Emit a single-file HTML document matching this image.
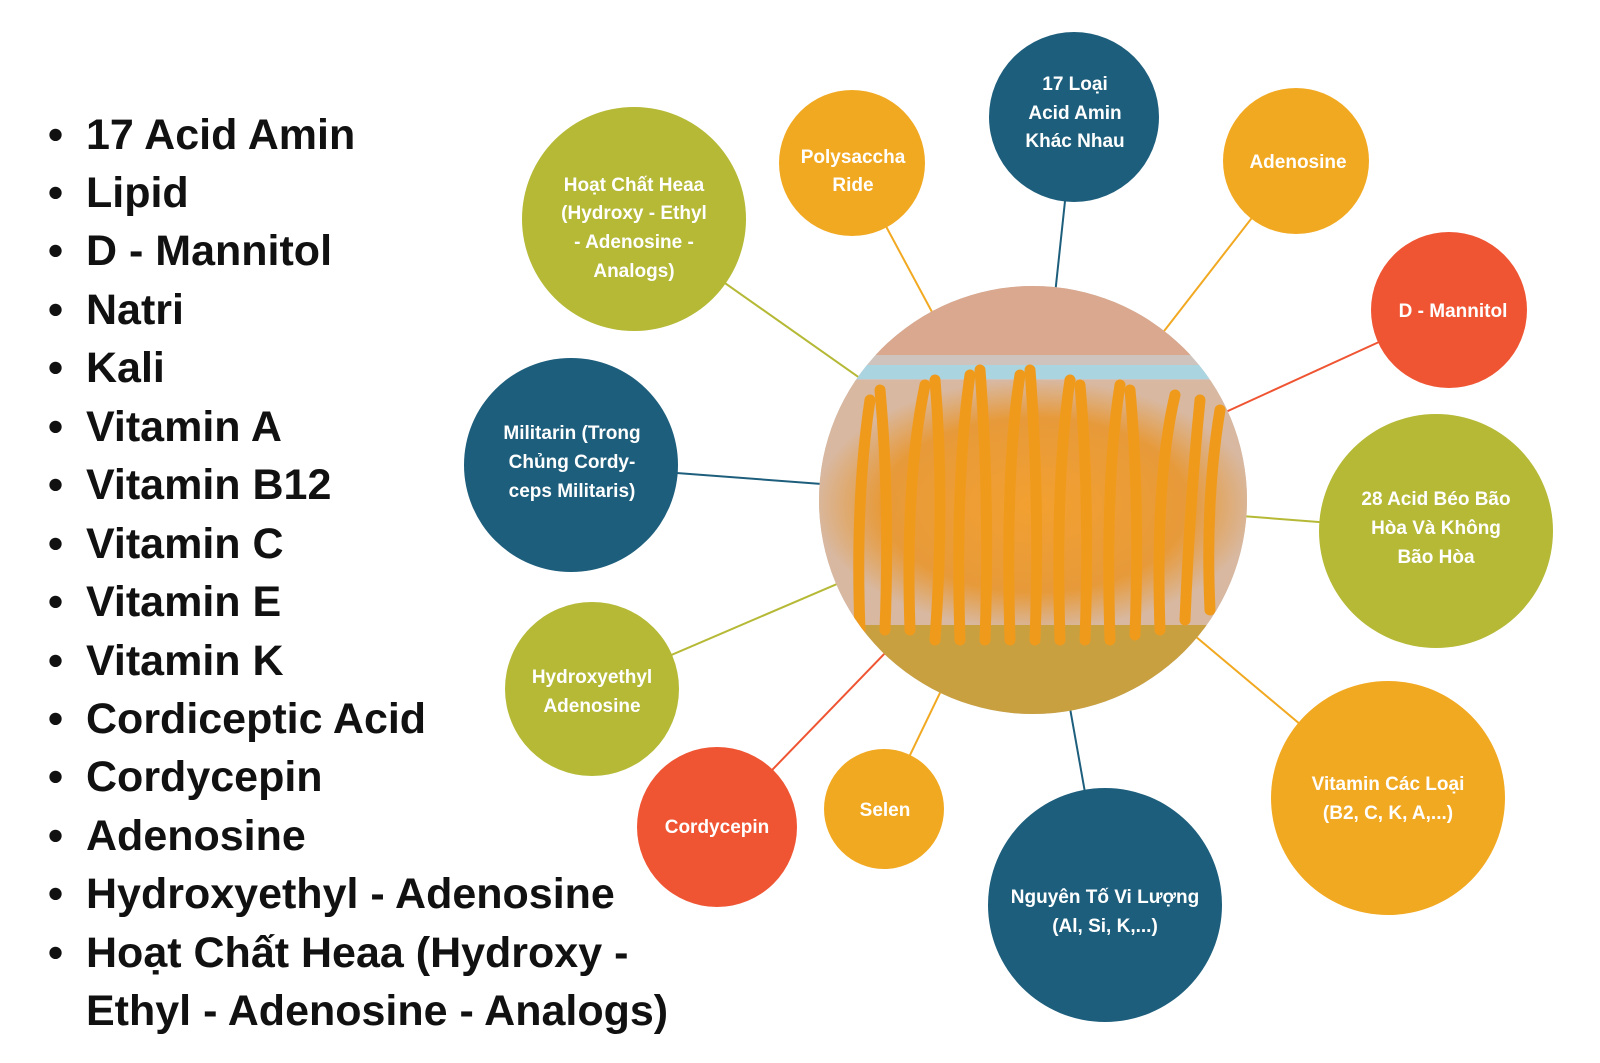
<!DOCTYPE html>
<html><head><meta charset="utf-8"><style>
html,body{margin:0;padding:0;background:#fff;}
svg{display:block}
.l{font-family:"Liberation Sans",sans-serif;font-weight:bold;font-size:43px;fill:#111}
.c{font-family:"Liberation Sans",sans-serif;font-weight:bold;font-size:19px;fill:#fff;text-anchor:middle}
</style></head><body>
<svg width="1600" height="1063" viewBox="0 0 1600 1063" xmlns="http://www.w3.org/2000/svg">
<defs>
<radialGradient id="bg" cx="50%" cy="50%" r="50%">
<stop offset="0" stop-color="#f2a030"/><stop offset="0.7" stop-color="#e79a3a"/><stop offset="1" stop-color="#d8b8a0"/>
</radialGradient>
<clipPath id="cp"><circle cx="1033" cy="500" r="214"/></clipPath>
</defs>
<g stroke-width="2">
<line x1="634" y1="219" x2="1033" y2="500" stroke="#b5b935"/>
<line x1="852" y1="163" x2="1033" y2="500" stroke="#f2a922"/>
<line x1="1074" y1="117" x2="1033" y2="500" stroke="#1d5e7c"/>
<line x1="1296" y1="161" x2="1033" y2="500" stroke="#f2a922"/>
<line x1="1449" y1="310" x2="1033" y2="500" stroke="#ef5533"/>
<line x1="1436" y1="531" x2="1033" y2="500" stroke="#b5b935"/>
<line x1="1388" y1="798" x2="1033" y2="500" stroke="#f2a922"/>
<line x1="1105" y1="905" x2="1033" y2="500" stroke="#1d5e7c"/>
<line x1="884" y1="809" x2="1033" y2="500" stroke="#f2a922"/>
<line x1="717" y1="827" x2="1033" y2="500" stroke="#ef5533"/>
<line x1="592" y1="689" x2="1033" y2="500" stroke="#b5b935"/>
<line x1="571" y1="465" x2="1033" y2="500" stroke="#1d5e7c"/>
</g>
<g clip-path="url(#cp)">
<rect x="815" y="285" width="440" height="440" fill="#cfc3bd"/>
<rect x="815" y="285" width="440" height="70" fill="#d9a88e"/>
<rect x="815" y="365" width="440" height="14" fill="#a9d4e0"/>
<rect x="815" y="380" width="440" height="250" fill="url(#bg)"/>
<rect x="815" y="625" width="440" height="110" fill="#c9a040"/>
<g stroke="#f09a1c" stroke-width="11" stroke-linecap="round" fill="none">
<path d="M860 630 Q855 500 870 400"/><path d="M885 630 Q890 500 880 390"/><path d="M910 630 Q905 480 925 385"/>
<path d="M935 640 Q945 500 935 380"/><path d="M960 640 Q955 480 970 375"/><path d="M985 640 Q990 500 980 370"/>
<path d="M1010 640 Q1005 470 1020 375"/><path d="M1035 640 Q1040 500 1030 370"/><path d="M1060 640 Q1055 480 1070 380"/>
<path d="M1085 640 Q1090 500 1080 385"/><path d="M1110 640 Q1105 480 1120 385"/><path d="M1135 635 Q1140 500 1130 390"/>
<path d="M1160 630 Q1155 480 1175 395"/><path d="M1185 620 Q1190 500 1200 400"/><path d="M1210 610 Q1205 500 1220 410"/>
</g>
</g>
<g>
<circle cx="634" cy="219" r="112" fill="#b5b935"/>
<circle cx="852" cy="163" r="73" fill="#f2a922"/>
<circle cx="1074" cy="117" r="85" fill="#1d5e7c"/>
<circle cx="1296" cy="161" r="73" fill="#f2a922"/>
<circle cx="1449" cy="310" r="78" fill="#ef5533"/>
<circle cx="1436" cy="531" r="117" fill="#b5b935"/>
<circle cx="1388" cy="798" r="117" fill="#f2a922"/>
<circle cx="1105" cy="905" r="117" fill="#1d5e7c"/>
<circle cx="884" cy="809" r="60" fill="#f2a922"/>
<circle cx="717" cy="827" r="80" fill="#ef5533"/>
<circle cx="592" cy="689" r="87" fill="#b5b935"/>
<circle cx="571" cy="465" r="107" fill="#1d5e7c"/>
</g>
<g class="c">
<text x="634" y="191">Hoạt Chất Heaa</text><text x="634" y="219">(Hydroxy - Ethyl</text><text x="634" y="248">- Adenosine -</text><text x="634" y="277">Analogs)</text>
<text x="853" y="163">Polysaccha</text><text x="853" y="191">Ride</text>
<text x="1075" y="90">17 Loại</text><text x="1075" y="119">Acid Amin</text><text x="1075" y="147">Khác Nhau</text>
<text x="1298" y="168">Adenosine</text>
<text x="1453" y="317">D - Mannitol</text>
<text x="1436" y="505">28 Acid Béo Bão</text><text x="1436" y="534">Hòa Và Không</text><text x="1436" y="563">Bão Hòa</text>
<text x="1388" y="790">Vitamin Các Loại</text><text x="1388" y="819">(B2, C, K, A,...)</text>
<text x="1105" y="903">Nguyên Tố Vi Lượng</text><text x="1105" y="932">(Al, Si, K,...)</text>
<text x="885" y="816">Selen</text>
<text x="717" y="833">Cordycepin</text>
<text x="592" y="683">Hydroxyethyl</text><text x="592" y="712">Adenosine</text>
<text x="572" y="439">Militarin (Trong</text><text x="572" y="468">Chủng Cordy-</text><text x="572" y="497">ceps Militaris)</text>
</g>
<g class="l">
<text x="48" y="149">•</text><text x="86" y="149">17 Acid Amin</text>
<text x="48" y="207">•</text><text x="86" y="207">Lipid</text>
<text x="48" y="265">•</text><text x="86" y="265">D - Mannitol</text>
<text x="48" y="324">•</text><text x="86" y="324">Natri</text>
<text x="48" y="382">•</text><text x="86" y="382">Kali</text>
<text x="48" y="441">•</text><text x="86" y="441">Vitamin A</text>
<text x="48" y="499">•</text><text x="86" y="499">Vitamin B12</text>
<text x="48" y="558">•</text><text x="86" y="558">Vitamin C</text>
<text x="48" y="616">•</text><text x="86" y="616">Vitamin E</text>
<text x="48" y="675">•</text><text x="86" y="675">Vitamin K</text>
<text x="48" y="733">•</text><text x="86" y="733">Cordiceptic Acid</text>
<text x="48" y="791">•</text><text x="86" y="791">Cordycepin</text>
<text x="48" y="850">•</text><text x="86" y="850">Adenosine</text>
<text x="48" y="908">•</text><text x="86" y="908">Hydroxyethyl - Adenosine</text>
<text x="48" y="967">•</text><text x="86" y="967">Hoạt Chất Heaa (Hydroxy -</text>
<text x="86" y="1025">Ethyl - Adenosine - Analogs)</text>
</g>
</svg>
</body></html>
